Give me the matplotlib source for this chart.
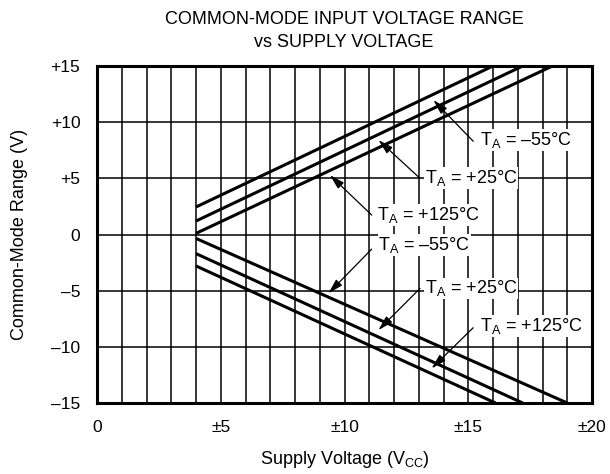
import matplotlib
matplotlib.use("Agg")
import matplotlib.pyplot as plt

plt.rcParams['font.family'] = ['Liberation Sans', 'DejaVu Sans']
plt.rcParams['mathtext.fontset'] = 'custom'
plt.rcParams['mathtext.rm'] = 'Liberation Sans'
plt.rcParams['mathtext.it'] = 'Liberation Sans:italic'
plt.rcParams['mathtext.bf'] = 'Liberation Sans:bold'

# Data: curve end points (supply voltage, common-mode limit)
upper_x = [[4.0, 16.0], [4.0, 17.2], [4.0, 18.4]]
upper_y = [[2.45, 15.0], [1.2, 15.0], [0.1, 15.0]]
lower_x = [[4.0, 19.0], [4.0, 17.2], [4.0, 16.1]]
lower_y = [[-0.35, -15.0], [-1.7, -15.0], [-2.8, -15.0]]

x_ticks = [0, 5, 10, 15, 20]
x_ticklabels = ['0', '±5', '±10', '±15', '±20']
y_ticks = [-15, -10, -5, 0, 5, 10, 15]
y_ticklabels = ['–15', '–10', '–5', '0', '+5', '+10', '+15']

labels = ['T$_\\mathrm{A}$ = –55°C', 'T$_\\mathrm{A}$ = +25°C', 'T$_\\mathrm{A}$ = +125°C',
          'T$_\\mathrm{A}$ = –55°C', 'T$_\\mathrm{A}$ = +25°C', 'T$_\\mathrm{A}$ = +125°C']
label_xy = [(15.47, 8.41), (13.25, 5.0), (11.3, 1.73),
            (11.37, -0.94), (13.25, -4.8), (15.47, -8.15)]
arrow_tail = [(15.2, 8.3), (13.05, 5.0), (11.1, 1.73),
              (11.1, -1.3), (13.05, -4.8), (15.2, -8.3)]
arrow_tip = [(13.59, 11.97), (11.37, 8.41), (9.41, 5.29),
             (9.35, -5.24), (11.37, -8.51), (13.52, -11.92)]

fig = plt.figure(figsize=(6.10, 4.74), dpi=100)
ax = fig.add_axes([97/610, 71/474, 495/610, 337/474])

ax.set_xlim(0, 20)
ax.set_ylim(-15, 15)

for v in range(1, 20):
    ax.axvline(v, color='black', lw=1.1, zorder=1)
for v in [-10, -5, 0, 5, 10]:
    ax.axhline(v, color='black', lw=1.1, zorder=1)

for xs, ys in zip(upper_x, upper_y):
    ax.plot(xs, ys, color='black', lw=2.2, solid_capstyle='butt', zorder=3)
for xs, ys in zip(lower_x, lower_y):
    ax.plot(xs, ys, color='black', lw=2.2, solid_capstyle='butt', zorder=3)

for lab, (tx, ty), (ax0, ay0), (hx, hy) in zip(labels, label_xy, arrow_tail, arrow_tip):
    ax.text(tx, ty, lab, fontsize=13, ha='left', va='center', zorder=5,
            bbox=dict(boxstyle='square,pad=0.05', fc='white', ec='none'))
    ax.annotate('', xy=(hx, hy), xytext=(ax0, ay0), zorder=4,
                arrowprops=dict(arrowstyle='-|>,head_length=0.9,head_width=0.25',
                                color='black', lw=0.9, shrinkA=0, shrinkB=0))

ax.set_xticks(x_ticks)
ax.set_xticklabels(x_ticklabels)
ax.set_yticks(y_ticks)
ax.set_yticklabels(y_ticklabels)
ax.tick_params(length=0, labelsize=12.5, pad=12)

for s in ax.spines.values():
    s.set_linewidth(2.2)
    s.set_zorder(6)

ax.set_xlabel('Supply Voltage (V$_\\mathrm{CC}$)', fontsize=13, labelpad=10)
ax.set_ylabel('Common-Mode Range (V)', fontsize=13, labelpad=16)
fig.text(344/610, 1 - 31/474, 'COMMON-MODE INPUT VOLTAGE RANGE\nvs SUPPLY VOLTAGE',
         ha='center', va='center', fontsize=13, linespacing=1.45)

fig.savefig('out.png', dpi=100)
